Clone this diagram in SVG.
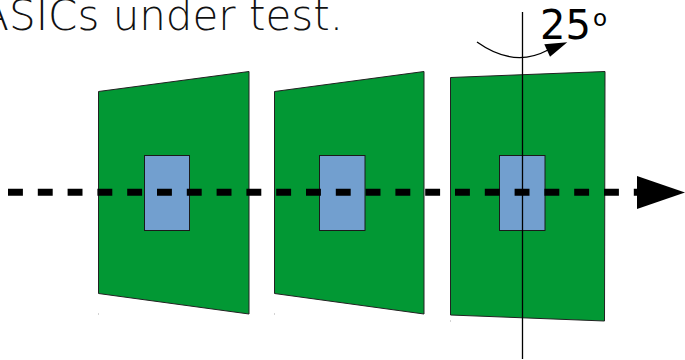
<svg xmlns="http://www.w3.org/2000/svg" width="685" height="360" viewBox="0 0 685 360">
  <style>
    .board { fill: #029834; stroke: #222; stroke-width: 1; }
    .chip { fill: #729fcf; stroke: #1a1a1a; stroke-width: 1; }
    .dot { fill: #aaa; }
    .title { font-family: "DejaVu Sans", "Open Sans", sans-serif; font-weight: 200; font-size: 42px; fill: #111; }
    .angle { font-family: "DejaVu Sans", sans-serif; font-size: 40px; fill: #000; }
    .beam { stroke: #000; stroke-width: 7; stroke-dasharray: 14.9 14.9; fill: none; }
    .axis { stroke: #000; stroke-width: 1.3; fill: none; }
  </style>
  <rect width="685" height="360" fill="#fff"/>
  <text class="title" x="343" y="30" text-anchor="end">ASICs under test.</text>
  <g id="asic1">
    <polygon class="board" points="98.5,91.5 249,71.5 249,314 98.5,293.5"/>
    <rect class="chip" x="144.5" y="155.5" width="45" height="75"/>
    <rect class="dot" x="98" y="313.5" width="1" height="1"/>
  </g>
  <g id="asic2">
    <polygon class="board" points="274.5,91.5 424,71.5 424,314 274.5,293.5"/>
    <rect class="chip" x="319.5" y="155.5" width="45.5" height="75"/>
    <rect class="dot" x="274" y="313.5" width="1" height="1"/>
  </g>
  <g id="asic3">
    <polygon class="board" points="450.5,77.5 605,71.5 604.5,321 450.5,315"/>
    <rect class="chip" x="499.5" y="155.5" width="45.5" height="75"/>
    <rect class="dot" x="450" y="320.5" width="1" height="1"/>
  </g>
  <g id="connectors">
    <line class="beam" x1="8" y1="192.3" x2="640" y2="192.3"/>
    <polygon points="637,176 685,192.5 637,209" fill="#000"/>
    <line class="axis" x1="522.5" y1="12" x2="522.5" y2="359"/>
    <path class="axis" d="M477,42 C498,57 522,64 548,50"/>
    <polygon points="567.3,42.3 544.3,44.3 550,56.7" fill="#000"/>
  </g>
  <text class="angle" x="540" y="38.5">25<tspan font-size="23" dy="-12.5" dx="2">o</tspan></text>
</svg>
